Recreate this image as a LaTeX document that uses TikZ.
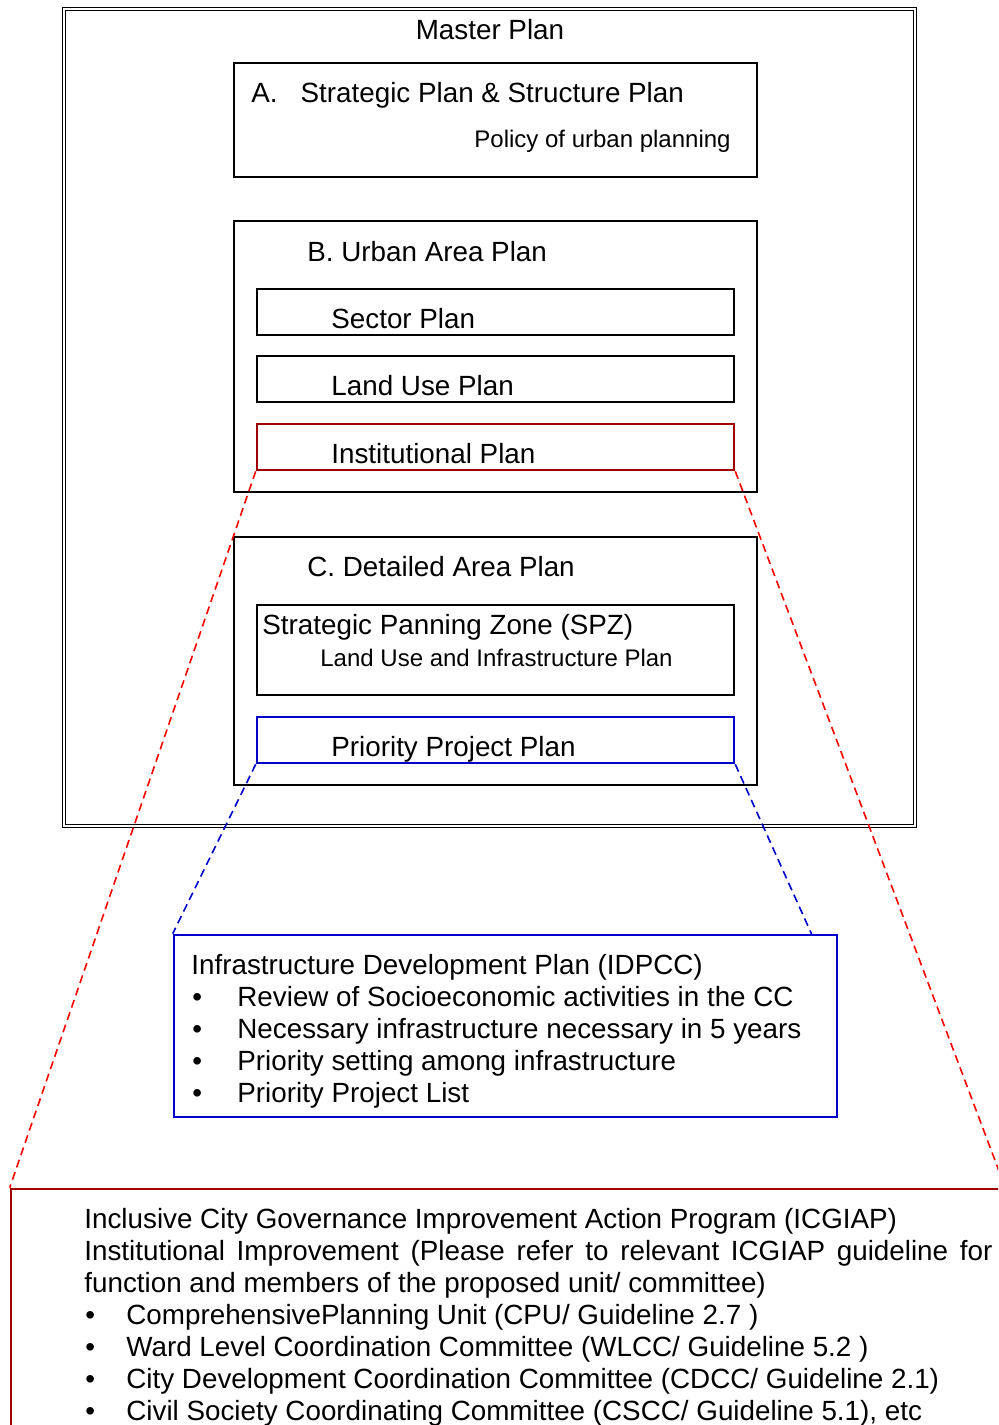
\documentclass[tikz,border=0pt]{standalone}
\usepackage{fontspec}
\setmainfont{Liberation Sans}
\usetikzlibrary{fit}
\definecolor{instred}{RGB}{160,0,0}
\definecolor{prioblue}{RGB}{0,0,204}
\tikzset{
	plan/.style={draw, line width=1pt, inner sep=0pt},
	txt/.style={anchor=base west, inner sep=0pt, font=\fontsize{13.9pt}{16pt}\selectfont},
	subtxt/.style={txt, font=\fontsize{12pt}{14pt}\selectfont},
	zoomline/.style={line width=0.8pt, dash pattern=on 4pt off 2.5pt}
}

\begin{document}
\begin{tikzpicture}[x=0.5pt,y=-0.5pt]
		\useasboundingbox (0,0) rectangle (998,1425);
		\clip (0,0) rectangle (998,1425);
		\node[plan, line width=0.75pt, double, double distance=0.7pt, fit={(64,9) (915,826)}] (master) {};
		\node[plan, fit={(234,63) (757,177)}] (boxA) {};
		\node[plan, fit={(234,221) (757,492)}] (boxB) {};
		\node[plan, fit={(257,289) (734,335)}] (sector) {};
		\node[plan, fit={(257,356) (734,402)}] (landuse) {};
		\node[plan, draw=instred, line width=1.3pt, fit={(257,424) (734,470)}] (inst) {};
		\node[plan, fit={(234,537) (757,785)}] (boxC) {};
		\node[plan, fit={(257,605) (734,695)}] (spz) {};
		\node[plan, draw=prioblue, line width=1.3pt, fit={(257,717) (734,763)}] (prio) {};
		\node[plan, draw=prioblue, line width=1.3pt, fit={(174,935) (837,1117)}] (idp) {};
		\node[plan, draw=instred, line width=1.3pt, fit={(11,1189) (1004,1460)}] (icg) {};
		\node[txt, anchor=base] (mastertxt) at (490,39) {Master Plan};
		\node[txt] (atxt) at (251,102) {A.\hspace{11.5pt}Strategic Plan \& Structure Plan};
		\node[subtxt, anchor=base east] (policytxt) at (731,147) {Policy of urban planning};
		\node[txt] (btxt) at (307,261) {B. Urban Area Plan};
		\node[txt] (sectortxt) at (331,328) {Sector Plan};
		\node[txt] (landusetxt) at (331,395) {Land Use Plan};
		\node[txt] (insttxt) at (331,463) {Institutional Plan};
		\node[txt] (ctxt) at (307,576) {C. Detailed Area Plan};
		\node[txt] (spztxt) at (262,634) {Strategic Panning Zone (SPZ)};
		\node[subtxt] (spzsub) at (320,666) {Land Use and Infrastructure Plan};
		\node[txt] (priotxt) at (331,756) {Priority Project Plan};
		\node[txt] (idptxt) at (191,974) {Infrastructure Development Plan (IDPCC)};
		\foreach \t [count=\i from 0] in {Review of Socioeconomic activities in the CC,Necessary infrastructure necessary in 5 years,Priority setting among infrastructure,Priority Project List}{
			\node[txt] (idpdot\i) at (192,1006+32*\i) {\textbullet};
			\node[txt] (idpitem\i) at (237,1006+32*\i) {\t};
		}
		\node[txt] (icgtxt) at (84,1228) {Inclusive City Governance Improvement Action Program (ICGIAP)};
		\node[txt] (icgline) at (84,1260) {\makebox[454pt][s]{Institutional Improvement (Please refer to relevant ICGIAP guideline for}};
		\node[txt] (icgline2) at (84,1292) {function and members of the proposed unit/ committee)};
		\foreach \t [count=\i from 0] in {ComprehensivePlanning Unit (CPU/ Guideline 2.7 ),Ward Level Coordination Committee (WLCC/ Guideline 5.2 ),City Development Coordination Committee (CDCC/ Guideline 2.1),{Civil Society Coordinating Committee (CSCC/ Guideline 5.1), etc}}{
			\node[txt] (icgdot\i) at (85,1324+32*\i) {\textbullet};
			\node[txt] (icgitem\i) at (126,1324+32*\i) {\t};
		}
		\coordinate (idpend) at (812,935);
		\draw[zoomline, red] (inst.south west) -- (icg.north west);
		\draw[zoomline, red] (inst.south east) -- (icg.north east);
		\draw[zoomline, prioblue] (prio.south west) -- (idp.north west);
		\draw[zoomline, prioblue] (prio.south east) -- (idpend);
	\end{tikzpicture}
\end{document}
